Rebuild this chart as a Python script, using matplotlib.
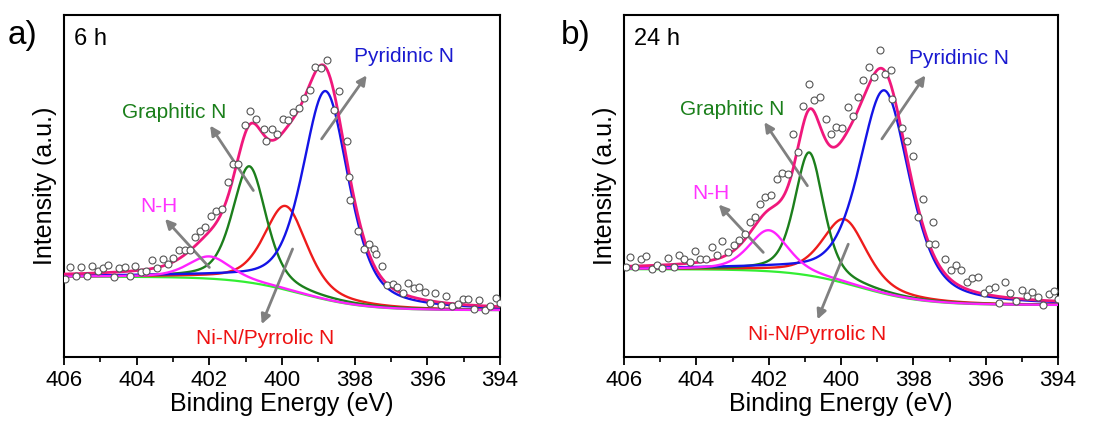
import numpy as np
import matplotlib
matplotlib.use("Agg")
from matplotlib import pyplot as plt
from matplotlib.ticker import MultipleLocator

plt.rcParams['font.family'] = ['Liberation Sans', 'DejaVu Sans']

# measured N 1s points, 6 h sample
be_6h = [405.97, 405.83, 405.67, 405.53, 405.36, 405.23, 405.07, 404.94, 404.78, 404.62,
         404.48, 404.32, 404.18, 404.05, 403.89, 403.74, 403.59, 403.45, 403.28, 403.13,
         402.99, 402.83, 402.67, 402.53, 402.39, 402.26, 402.12, 401.96, 401.82, 401.65,
         401.48, 401.34, 401.20, 401.02, 400.88, 400.72, 400.51, 400.44, 400.28, 400.15,
         399.98, 399.84, 399.69, 399.52, 399.39, 399.23, 399.09, 398.94, 398.77, 398.56,
         398.42, 398.22, 398.17, 398.13, 397.90, 397.74, 397.60, 397.47, 397.41, 397.26,
         397.12, 396.95, 396.83, 396.68, 396.52, 396.37, 396.22, 396.06, 395.93, 395.79,
         395.63, 395.49, 395.33, 395.17, 395.03, 394.87, 394.73, 394.57, 394.41, 394.28,
         394.11, 394.00]
int_6h = [22.8, 26.2, 23.8, 26.4, 23.8, 26.5, 25.2, 25.9, 26.9, 23.5,
          26.0, 26.2, 23.8, 26.5, 25.0, 25.2, 28.3, 25.9, 28.8, 27.2,
          29.1, 31.3, 31.3, 31.3, 35.0, 36.9, 37.9, 41.3, 42.8, 43.3,
          51.1, 56.5, 56.5, 68.0, 72.1, 69.7, 66.8, 63.1, 66.8, 65.3,
          69.7, 69.4, 71.7, 72.9, 75.9, 78.0, 84.8, 84.4, 86.8, 72.3,
          77.8, 63.3, 52.6, 45.9, 36.9, 31.6, 33.0, 31.6, 30.1, 26.7,
          21.1, 21.5, 20.5, 18.6, 21.6, 20.1, 20.5, 19.1, 15.9, 18.6,
          15.2, 17.9, 15.0, 15.6, 16.9, 17.1, 14.0, 16.7, 13.7, 14.8,
          17.4, 15.9]

# measured N 1s points, 24 h sample
be_24h = [405.95, 405.83, 405.69, 405.54, 405.38, 405.24, 405.09, 404.95, 404.78, 404.62,
          404.49, 404.34, 404.18, 404.04, 403.89, 403.74, 403.58, 403.42, 403.28, 403.12,
          402.96, 402.82, 402.66, 402.52, 402.38, 402.24, 402.09, 401.94, 401.78, 401.62,
          401.48, 401.34, 401.18, 401.04, 400.88, 400.75, 400.58, 400.42, 400.28, 400.14,
          399.98, 399.82, 399.68, 399.52, 399.38, 399.22, 399.08, 398.92, 398.78, 398.62,
          398.58, 398.32, 398.18, 398.02, 397.87, 397.72, 397.58, 397.46, 397.41, 397.12,
          396.96, 396.82, 396.67, 396.52, 396.38, 396.21, 396.06, 395.92, 395.75, 395.62,
          395.47, 395.32, 395.16, 395.01, 394.87, 394.72, 394.56, 394.41, 394.25, 394.12,
          394.00]
int_24h = [26.4, 29.3, 26.4, 28.6, 29.6, 25.7, 26.9, 26.0, 29.1, 26.4,
           29.9, 28.6, 27.9, 31.1, 28.6, 28.8, 32.1, 29.9, 33.8, 30.6,
           32.8, 34.2, 36.0, 39.4, 40.9, 44.8, 46.7, 47.4, 52.1, 53.8,
           53.4, 65.3, 59.9, 73.3, 79.8, 75.1, 76.1, 69.7, 65.3, 67.4,
           67.1, 73.1, 70.4, 76.1, 81.1, 84.8, 81.9, 89.7, 82.7, 84.1,
           75.6, 67.1, 63.3, 58.9, 40.9, 46.2, 33.0, 39.4, 33.0, 28.6,
           25.4, 26.9, 25.4, 22.0, 23.1, 23.5, 18.7, 19.8, 20.5, 15.9,
           21.8, 18.6, 16.4, 19.6, 17.9, 18.9, 17.6, 15.2, 18.4, 19.4,
           16.9]

# fitted components: pyridinic, Ni-N/pyrrolic, graphitic, N-H
names = ["Pyridinic N", "Ni-N/Pyrrolic N", "Graphitic N", "N-H"]
centers_6h = [398.80, 399.90, 400.90, 402.00]
heights_6h = [61.0, 24.5, 34.0, 6.5]
fwhm_6h = [1.50, 1.40, 1.10, 1.40]
bg_6h = [23.5, 13.7]          # background level on high / low BE side

centers_24h = [398.80, 399.90, 400.88, 402.00]
heights_24h = [59.5, 18.7, 36.0, 12.0]
fwhm_24h = [1.65, 1.45, 0.95, 1.30]
bg_24h = [25.7, 15.2]

line_colors = ["#1414e6", "#ee1c1c", "#1c7f1c", "#ff22ff"]
text_colors = ["#1a1ad0", "#ee1111", "#1a7f1a", "#ff33ff"]
env_color = "#f0187c"
bg_color = "#33ee33"

# label positions and arrow (tail, head) for each component
label_xy_6h = [(396.64, 87.8), (400.47, 5.5), (402.97, 71.4), (403.38, 44.0)]
arrows_6h = [((398.91, 63.8), (397.67, 82.4)), ((399.71, 31.6), (400.56, 9.6)),
             ((400.79, 48.7), (401.98, 67.7)), ((402.00, 26.2), (403.22, 40.4))]
label_xy_24h = [(396.73, 87.3), (400.65, 6.6), (403.01, 72.3), (403.60, 47.9)]
arrows_24h = [((398.87, 63.8), (397.67, 82.4)), ((399.80, 33.0), (400.65, 11.0)),
              ((400.93, 50.1), (402.12, 68.7)), ((402.15, 30.6), (403.38, 44.6))]


def pseudo_voigt(x, c, h, fw, eta=0.5):
    d = (x - c) / fw
    return h * ((1 - eta) * np.exp(-4 * np.log(2) * d ** 2) + eta / (1 + 4 * d ** 2))


def step_bg(x, hi, lo, x0=399.5, w=0.9):
    return lo + (hi - lo) / (1 + np.exp(-(x - x0) / w))


def draw_panel(ax, be, inten, centers, heights, fwhm, bg, label_xy, arrows, tag):
    x = np.linspace(394, 406, 800)
    base = step_bg(x, *bg)
    comps = [pseudo_voigt(x, c, h, w) for c, h, w in zip(centers, heights, fwhm)]

    ax.plot(x, base, color=bg_color, lw=1.6, zorder=2)
    for i in [1, 2, 0, 3]:
        ax.plot(x, base + comps[i], color=line_colors[i], lw=1.7, zorder=3)
    ax.plot(x, base + sum(comps), color=env_color, lw=2.0, zorder=4)
    ax.plot(be, inten, 'o', ms=5, mfc='white', mec='#555555', mew=0.8, zorder=5)

    for i in range(4):
        ax.text(*label_xy[i], names[i], color=text_colors[i], fontsize=15,
                ha='center', va='center')
        tail, head = arrows[i]
        ax.annotate('', xy=head, xytext=tail,
                    arrowprops=dict(arrowstyle='-|>', color='#808080', lw=2,
                                    mutation_scale=14, shrinkA=0, shrinkB=0))

    ax.text(0.022, 0.93, tag, transform=ax.transAxes, fontsize=17, va='center')

    ax.set_xlim(406, 394)
    ax.set_ylim(0, 100)
    ax.xaxis.set_major_locator(MultipleLocator(2))
    ax.xaxis.set_minor_locator(MultipleLocator(1))
    ax.set_yticks([])
    ax.tick_params(axis='x', which='major', direction='out', length=6, width=1.3,
                   labelsize=16, pad=3)
    ax.tick_params(axis='x', which='minor', direction='out', length=3.5, width=1.2)
    for s in ax.spines.values():
        s.set_linewidth(1.5)
    ax.set_xlabel("Binding Energy (eV)", fontsize=18, labelpad=1)
    ax.set_ylabel("Intensity (a.u.)", fontsize=18, labelpad=5)


fig = plt.figure(figsize=(11.08, 4.21), dpi=100)
ax1 = fig.add_axes([0.0578, 0.152, 0.3935, 0.812])
ax2 = fig.add_axes([0.5632, 0.152, 0.3917, 0.812])

draw_panel(ax1, be_6h, int_6h, centers_6h, heights_6h, fwhm_6h, bg_6h,
           label_xy_6h, arrows_6h, "6 h")
draw_panel(ax2, be_24h, int_24h, centers_24h, heights_24h, fwhm_24h, bg_24h,
           label_xy_24h, arrows_24h, "24 h")

fig.text(0.007, 0.915, "a)", fontsize=24, va='center')
fig.text(0.506, 0.915, "b)", fontsize=24, va='center')

fig.savefig("out.png", dpi=100)
